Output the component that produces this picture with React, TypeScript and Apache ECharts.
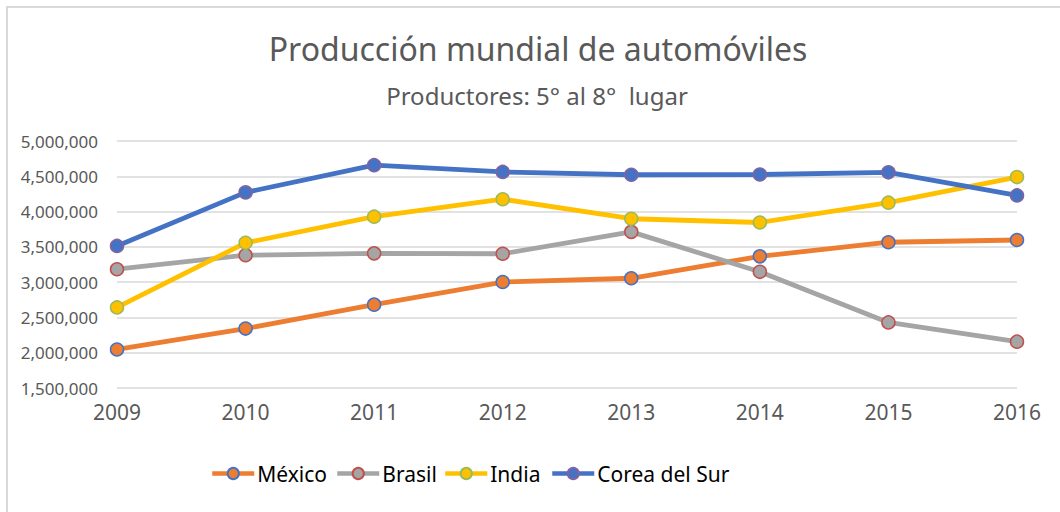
import React, { useEffect, useRef } from "react";
import * as echarts from "echarts";

const years = ["2009", "2010", "2011", "2012", "2013", "2014", "2015", "2016"];
const mexico = [2046000, 2342282, 2681050, 3001814, 3054849, 3365306, 3565469, 3597462];
const brasil = [3182923, 3381728, 3407861, 3402508, 3712380, 3146386, 2429463, 2156356];
const india = [2641550, 3557073, 3927411, 4174713, 3898425, 3844857, 4125744, 4488965];
const corea = [3512926, 4271741, 4657094, 4561766, 4521429, 4524932, 4555957, 4228509];

const seriesDefs = [
  { name: "México", data: mexico, color: "#ED7D31", border: "#4472C4" },
  { name: "Brasil", data: brasil, color: "#A5A5A5", border: "#C0504D" },
  { name: "India", data: india, color: "#FFC000", border: "#9BBB59" },
  { name: "Corea del Sur", data: corea, color: "#4472C4", border: "#8064A2" },
];
const legendLefts = [210, 335, 443, 550];

const FONT = "'Noto Sans', sans-serif";

export default function App() {
  const ref = useRef<HTMLDivElement>(null);
  useEffect(() => {
    if (!ref.current) return;
    const chart = echarts.init(ref.current, undefined, { renderer: "svg" });
    chart.setOption({
      animation: false,
      backgroundColor: "#ffffff",
      textStyle: { fontFamily: FONT },
      graphic: [
        {
          type: "rect",
          shape: { x: 7, y: 7, width: 1200, height: 700 },
          style: { fill: "none", stroke: "#d9d9d9", lineWidth: 2 },
          silent: true,
        },
      ],
      title: [
        {
          text: "Producción mundial de automóviles",
          left: 533,
          top: 27,
          textAlign: "center",
          textStyle: { fontFamily: FONT, fontSize: 32, fontWeight: "normal", color: "#595959" },
        },
        {
          text: "Productores: 5° al 8°  lugar",
          left: 532,
          top: 78,
          textAlign: "center",
          textStyle: { fontFamily: FONT, fontSize: 24, fontWeight: "normal", color: "#595959" },
        },
      ],
      legend: seriesDefs.map((s, i) => ({
        left: legendLefts[i],
        top: 463,
        padding: 0,
        itemWidth: 42,
        itemHeight: 14,
        itemGap: 0,
        lineStyle: { width: 4.5 },
        textStyle: { fontFamily: FONT, fontSize: 21, color: "#000000", padding: [0, 0, 0, -2] },
        data: [s.name],
      })),
      grid: { left: 117, right: 43, top: 141, bottom: 124, containLabel: false },
      xAxis: {
        type: "category",
        data: years,
        boundaryGap: false,
        axisLine: { show: false },
        axisTick: { show: false },
        axisLabel: { fontFamily: FONT, fontSize: 21, color: "#595959", margin: 13 },
      },
      yAxis: {
        type: "value",
        min: 1500000,
        max: 5000000,
        interval: 500000,
        axisLine: { show: false },
        axisTick: { show: false },
        splitLine: { lineStyle: { color: "#d9d9d9", width: 1.5 } },
        axisLabel: {
          fontFamily: FONT,
          fontSize: 17,
          color: "#595959",
          margin: 19,
          formatter: (v: number) => v.toLocaleString("en-US"),
        },
      },
      series: seriesDefs.map((s) => ({
        name: s.name,
        type: "line",
        data: s.data,
        symbol: "circle",
        symbolSize: 13,
        lineStyle: { color: s.color, width: 4.8 },
        itemStyle: { color: s.color, borderColor: s.border, borderWidth: 1.5 },
      })),
    });
    return () => chart.dispose();
  }, []);
  return (
    <div
      ref={ref}
      style={{ position: "absolute", left: 0, top: 0, width: 1060, height: 512 }}
    />
  );
}
